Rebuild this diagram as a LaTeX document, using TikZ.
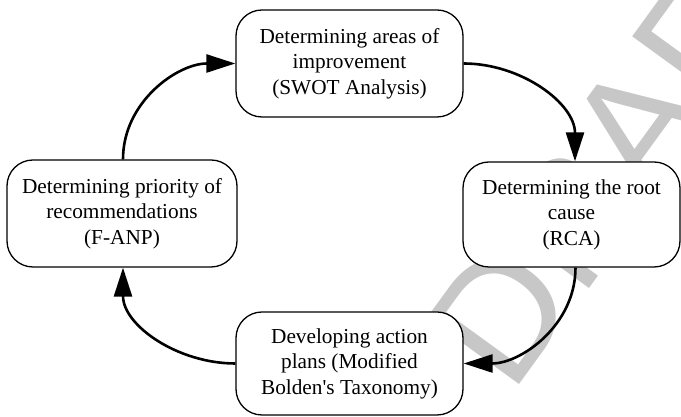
\documentclass[tikz,border=0pt]{standalone}
\usepackage{fontspec}
\setmainfont{Liberation Serif}[Ligatures=TeXOff]
\newfontfamily\wmfont{Liberation Sans}
\usetikzlibrary{arrows.meta}
\begin{document}
\begin{tikzpicture}[x=1pt,y=1pt,
  box/.style={draw, line width=1.3pt, rounded corners=26pt, fill=white,
    align=center, inner sep=0pt, font=\fontsize{21.3}{25.5}\selectfont},
  conn/.style={line width=2.6pt, -{Triangle[length=29pt,width=18pt]}},
  watermark/.style={rotate=54, text=black!22, font=\wmfont\fontsize{165}{165}\selectfont}]
\useasboundingbox (0,0) rectangle (681,417);
\node[watermark] (wm) at (627,277) {DRAFT};
\node[box, minimum width=227pt, minimum height=107pt] (top) at (349.5,353.5)
  {Determining areas of\\improvement\\(SWOT Analysis)};
\node[box, minimum width=230pt, minimum height=107pt] (left) at (122,203.5)
  {Determining priority of\\recommendations\\(F-ANP)};
\node[box, minimum width=217pt, minimum height=105pt] (right) at (571.5,202.5)
  {Determining the root\\cause\\(RCA)};
\node[box, minimum width=227pt, minimum height=103pt] (bottom) at (349.5,53.5)
  {Developing action\\plans (Modified\\Bolden's Taxonomy)};
\draw[conn] ([xshift=1pt]left.north) to[out=90,in=180] (top.west);
\draw[conn] (top.east) to[out=0,in=90] ([xshift=3.5pt]right.north);
\draw[conn] ([xshift=4pt]right.south) to[out=-90,in=0] (bottom.east);
\draw[conn] (bottom.west) to[out=180,in=-90] ([xshift=1pt]left.south);
\end{tikzpicture}
\end{document}
